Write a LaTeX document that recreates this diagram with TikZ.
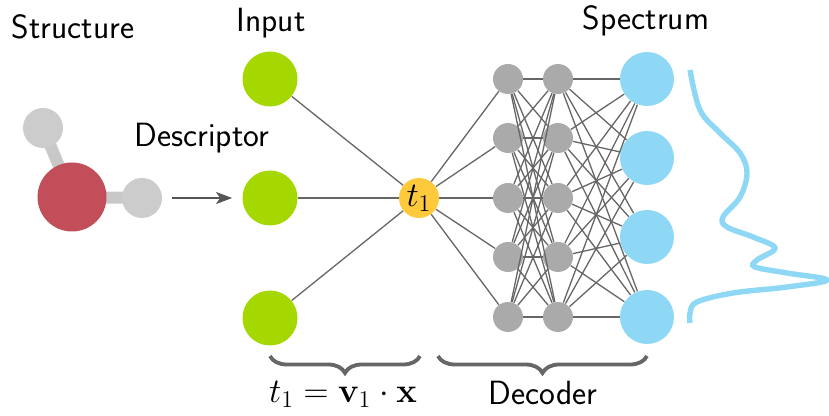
\documentclass[tikz,border=0pt]{standalone}
\usetikzlibrary{arrows.meta,decorations.pathreplacing,backgrounds}
\definecolor{cgreen}{RGB}{165,215,0}
\definecolor{cblue}{RGB}{143,216,245}
\definecolor{cred}{RGB}{194,78,90}
\definecolor{chid}{RGB}{170,170,170}
\definecolor{chyd}{RGB}{204,204,204}
\definecolor{cbond}{RGB}{200,200,200}
\definecolor{cyel}{RGB}{255,201,60}
\definecolor{cedge}{RGB}{102,102,102}
\definecolor{carrow}{RGB}{85,85,85}
\tikzset{
  neuron/.style={circle,inner sep=0pt,draw=none},
  inp/.style={neuron,fill=cgreen,minimum size=27.5pt},
  outp/.style={neuron,fill=cblue,minimum size=27pt},
  hid/.style={neuron,fill=chid,minimum size=15pt},
  lat/.style={neuron,fill=cyel,minimum size=20pt,font=\fontsize{16.5}{19}\selectfont},
  conn/.style={draw=cedge,line width=0.65pt},
  lbl/.style={anchor=base,inner sep=0pt,font=\fontsize{16.8}{20}\selectfont\sffamily},
  bracestyle/.style={draw=cedge,line width=1.9pt,decorate,decoration={brace,mirror,amplitude=8.5pt}},
}
\begin{document}
\begin{tikzpicture}[x=0.5pt,y=-0.5pt]
\useasboundingbox (0,0) rectangle (829,416);
% molecule
\node[neuron,fill=chyd,minimum size=20pt] (h1) at (43,128) {};
\node[neuron,fill=chyd,minimum size=20pt] (h2) at (142,198) {};
\node[neuron,fill=cred,minimum size=34.5pt] (o) at (72,197) {};
\begin{scope}[on background layer]
\draw[cbond,line width=6pt] (o.center) -- (h1.center);
\draw[cbond,line width=6pt] (o.center) -- (h2.center);
\end{scope}
% inputs
\node[inp] (i1) at (270,79) {};
\node[inp] (i2) at (270,198) {};
\node[inp] (i3) at (270,318) {};
\draw[carrow,line width=0.8pt,-{Stealth[length=8pt,width=6pt,inset=2pt]},shorten <=5pt,shorten >=5pt] (h2) -- (i2);
% latent
\node[lat] (t) at (419,198) {$t_1$};
% hidden
\foreach \j/\y in {1/79,2/138,3/198,4/257,5/317}{
  \node[hid] (a\j) at (508,\y) {};
  \node[hid] (b\j) at (558,\y) {};
}
% outputs
\foreach \j/\y in {1/79,2/158,3/237,4/317}{
  \node[outp] (o\j) at (647,\y) {};
}
% connections
\foreach \i in {1,2,3}{ \draw[conn] (i\i) -- (t); }
\foreach \j in {1,...,5}{ \draw[conn] (t) -- (a\j); }
\foreach \j in {1,...,5}{ \foreach \k in {1,...,5}{ \draw[conn] (a\j) -- (b\k); } }
\foreach \j in {1,...,5}{ \foreach \k in {1,...,4}{ \draw[conn] (b\j) -- (o\k); } }
% spectrum curve
\draw[cblue,line width=2.7pt] plot[smooth,tension=0.6] coordinates {
  (690,70) (700,110) (720,133) (740,153) (747,173) (740,197) (723,217)
  (727,227) (753,237) (775,248) (757,260) (755,267) (787,273) (827,280)
  (787,287) (733,293) (697,302) (690,313) (690,323)};
% labels
\node[lbl] (ls) at (73,39) {Structure};
\node[lbl] (li) at (271,32) {Input};
\node[lbl] (ld) at (202,147) {Descriptor};
\node[lbl] (lsp) at (646,30) {Spectrum};
\node[lbl] (lm) at (343,402) {$t_1 = \mathbf{v}_1\cdot\mathbf{x}$};
\node[lbl] (ldec) at (543,404) {Decoder};
% braces
\coordinate (b1s) at (270,356);
\coordinate (b1e) at (420,356);
\coordinate (b2s) at (438,356);
\coordinate (b2e) at (647,356);
\draw[bracestyle] (b1s) -- (b1e);
\draw[bracestyle] (b2s) -- (b2e);
\end{tikzpicture}
\end{document}
